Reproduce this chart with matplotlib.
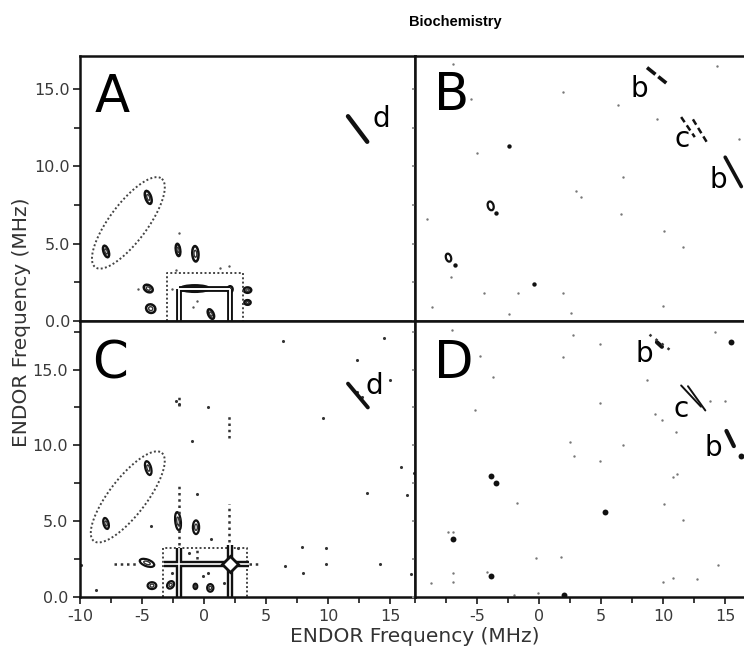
import numpy as np
import matplotlib
matplotlib.use("Agg")
import matplotlib.pyplot as plt
from matplotlib.patches import Ellipse

# ---------------- data ----------------
title = "Biochemistry"
axis_label = "ENDOR Frequency (MHz)"
panel_letters = ["A", "B", "C", "D"]

x_major = [-10, -5, 0, 5, 10, 15]
x_major_D = [-5, 0, 5, 10, 15]
y_major = [0.0, 5.0, 10.0, 15.0]

# Annotation ellipse (center, semi-axis vectors) for A and C
ellA = dict(c=(-6.1, 6.35), a=(2.7, 2.85), b=(1.15, -0.8))
ellC = dict(c=(-6.15, 6.6), a=(2.75, 2.9), b=(1.15, -0.78))
# dotted boxes (x0, x1, y1)
boxA = (-3.0, 3.1, 3.1)
boxC = (-3.3, 3.5, 3.25)

# ---- Panel A peaks: x, y, width, height, angle
A_px = [-4.5, -7.9, -2.1, -0.7, -4.5, -4.3, 0.55, 3.5, 3.5, -0.75, 2.1]
A_py = [8.0, 4.5, 4.6, 4.35, 2.1, 0.8, 0.45, 2.0, 1.2, 2.1, 2.05]
A_pw = [0.45, 0.4, 0.35, 0.5, 0.75, 0.75, 0.4, 0.6, 0.5, 2.3, 0.4]
A_ph = [0.9, 0.8, 0.8, 1.0, 0.45, 0.55, 0.7, 0.35, 0.3, 0.42, 0.4]
A_pa = [25, 25, 10, 5, -20, -10, 35, 0, 0, 0, 0]
# ridges A (x0,y0,x1,y1)
A_ridge = [(-2.0, 0.0, -2.0, 2.1), (-2.0, 2.1, 2.1, 2.1), (2.1, 2.1, 2.1, 0.0)]
A_d = (11.6, 13.25, 13.15, 11.6)
A_dots_x = [-2.0, 2.0, 1.3, -0.9, -0.6, -2.6, 3.4, -5.3, -2.3]
A_dots_y = [5.7, 3.55, 3.4, 0.9, 1.3, 2.1, 2.1, 2.1, 3.3]

# ---- Panel C peaks
C_px = [-4.5, -7.9, -2.1, -0.65, -4.6, -4.2, -2.7, 0.5, -0.7]
C_py = [8.5, 4.85, 5.0, 4.6, 2.25, 0.75, 0.8, 0.6, 0.7]
C_pw = [0.45, 0.4, 0.45, 0.5, 1.2, 0.7, 0.6, 0.5, 0.3]
C_ph = [0.95, 0.75, 1.2, 0.9, 0.45, 0.45, 0.45, 0.5, 0.35]
C_pa = [20, 20, 8, 0, -15, 0, 30, 35, 0]
C_ridge = [(-2.0, 0.0, -2.0, 2.2), (-2.0, 2.2, 2.1, 2.2), (2.1, 0.0, 2.1, 3.4),
           (2.1, 2.2, 3.6, 2.2), (-3.2, 2.2, -2.0, 2.2), (-2.0, 2.2, -2.0, 3.2)]
C_star = (2.1, 2.15)
C_dotted = [(-2.0, 3.4, -2.0, 7.4), (2.0, 3.6, 2.0, 6.1), (2.0, 10.5, 2.0, 12.0),
            (-7.3, 2.2, -5.3, 2.2), (3.6, 2.2, 4.6, 2.2), (-2.0, 12.6, -2.0, 13.2),
            (-0.6, 2.5, -0.6, 3.3)]
C_d = (11.6, 14.07, 13.2, 12.5)
C_dots_x = [6.35, 14.5, 12.35, 15.0, 0.35, -2.3, -2.0, 9.6, -1.0, 15.9, 16.9, 16.35,
            13.1, -0.6, -4.3, 0.55, 7.9, 9.8, 6.5, 9.8, 14.2, 8.0, 16.7, -8.7, -9.9,
            -0.1, -2.6, 1.6, 2.7, -1.2, 0.3, 12.7, 12.3]
C_dots_y = [16.9, 17.05, 15.65, 14.3, 12.5, 12.9, 12.7, 11.8, 10.3, 8.6, 8.2, 6.7,
            6.85, 6.8, 4.65, 3.85, 3.3, 3.2, 2.05, 2.2, 2.2, 1.6, 1.5, 0.45, 2.1,
            1.4, 1.6, 0.9, 3.2, 2.9, 1.6, 13.2, 13.5]

# ---- Panel B
B_lines = [(8.7, 16.4, 10.25, 15.4), (11.45, 13.2, 12.55, 11.9), (12.4, 13.05, 13.5, 11.6),
           (15.0, 10.6, 16.3, 8.7)]
B_px = [-3.9, -7.3]
B_py = [7.45, 4.1]
B_pw = [0.45, 0.4]
B_ph = [0.6, 0.55]
B_pa = [30, 30]
B_bold_x = [-3.45, -6.8, -0.4, -2.4]
B_bold_y = [7.0, 3.65, 2.4, 11.3]
B_dots_x = [-6.9, -5.5, 1.9, 6.4, -5.0, 6.8, 3.0, 3.35, 6.6, 9.5, 16.1, 14.3, 10.1,
            11.6, -9.0, -7.1, -4.4, -1.7, 1.9, -8.6, -2.4, 2.6, 10.0]
B_dots_y = [16.6, 14.35, 14.8, 14.0, 10.9, 9.35, 8.4, 8.05, 6.95, 13.1, 11.75, 16.5,
            5.8, 4.8, 6.6, 2.85, 1.8, 1.8, 1.8, 0.9, 0.45, 0.5, 1.0]
B_labels = [("b", 7.36, 14.5), ("c", 10.9, 11.26), ("b", 13.76, 8.6)]

# ---- Panel D
D_lines = [(11.45, 13.95, 13.05, 12.55), (12.0, 13.9, 13.4, 12.3), (15.1, 10.95, 15.7, 9.95),
           (9.5, 16.8, 9.9, 16.5)]
D_dotline = (8.9, 17.3, 10.7, 16.2)
D_bold_x = [15.5, -3.9, -3.45, 5.3, -6.9, -3.9, 2.0, 16.25]
D_bold_y = [16.8, 8.0, 7.5, 5.6, 3.85, 1.4, 0.13, 9.3]
D_dots_x = [-7.0, 14.2, -4.8, 1.9, 4.9, 2.7, -3.7, 4.9, 8.7, -5.2, 6.8, 2.5, 2.8, 4.9,
            13.8, 15.0, 9.35, 9.9, 11.0, 11.1, 10.8, 10.1, 11.6, -1.75, -7.3, -6.95,
            -6.9, -6.9, -8.7, -4.2, -0.25, 1.75, -2.0, -0.1, 14.4, 12.7, 10.8, 10.0, 16.8]
D_dots_y = [17.6, 17.5, 15.9, 15.8, 16.7, 17.3, 14.5, 12.8, 14.3, 12.3, 10.0, 10.2, 9.3,
            9.0, 12.9, 12.9, 12.1, 11.7, 10.9, 8.1, 7.9, 6.1, 5.1, 6.2, 4.3, 4.3,
            1.6, 1.0, 0.9, 1.65, 2.6, 2.65, 0.13, 0.25, 2.1, 1.2, 1.25, 1.0, 15.8]
D_labels = [("b", 7.76, 15.5), ("c", 10.8, 11.9), ("b", 13.36, 9.3)]

# ---------------- figure ----------------
W, H = 744, 658
fig = plt.figure(figsize=(W / 100, H / 100), dpi=100)

def fr(x0, y0, x1, y1):
    return [x0 / W, 1 - y1 / H, (x1 - x0) / W, (y1 - y0) / H]

axA = fig.add_axes(fr(80, 56, 415, 321))
axB = fig.add_axes(fr(415, 56, 750, 321))
axC = fig.add_axes(fr(80, 321, 415, 597))
axD = fig.add_axes(fr(415, 321, 750, 597))

tick_col = "#3a3a3a"
for ax, ylim in [(axA, 17.15), (axB, 17.15), (axC, 18.2), (axD, 18.2)]:
    ax.set_xlim(-10, 17)
    ax.set_ylim(0, ylim)
    for s in ax.spines.values():
        s.set_linewidth(1.8)
        s.set_color("#111111")
    ax.set_xticks(np.arange(-10, 17.1, 2.5), minor=True)
    ax.set_yticks(np.arange(0, ylim, 2.5), minor=True)
    ax.tick_params(which="both", direction="out", color=tick_col, width=1.4)
    ax.tick_params(which="major", length=5)
    ax.tick_params(which="minor", length=4)
    ax.tick_params(labelsize=11.5, labelcolor=tick_col)
    ax.set_facecolor("white")

for ax in (axA, axC):
    ax.set_yticks(y_major)
    ax.set_yticklabels([f"{v:.1f}" for v in y_major])
for ax in (axB, axD):
    ax.set_yticks(y_major)
    ax.set_yticklabels([])
    ax.tick_params(axis="y", which="both", length=2, color="#999999")
for ax in (axA, axB):
    ax.set_xticks([])
    ax.set_xticks([], minor=True)
axC.set_xticks(x_major)
axC.set_xticklabels([str(v) for v in x_major])
axD.set_xticks(x_major_D)
axD.set_xticklabels([str(v) for v in x_major_D])
axA.tick_params(axis="y", which="major", pad=2)

def draw_ell(ax, e):
    t = np.linspace(0, 2 * np.pi, 120)
    cx, cy = e["c"]
    ax.plot(cx + e["a"][0] * np.cos(t) + e["b"][0] * np.sin(t),
            cy + e["a"][1] * np.cos(t) + e["b"][1] * np.sin(t),
            ls=(0, (1, 1.2)), color="#444444", lw=1.4)

def draw_box(ax, b):
    x0, x1, y1 = b
    ax.plot([x0, x0, x1, x1], [0, y1, y1, 0], ls=(0, (1, 1.2)), color="#444444", lw=1.4)

def draw_peaks(ax, xs, ys, ws, hs, angs, lw=1.8):
    for x, y, w, h, a in zip(xs, ys, ws, hs, angs):
        ax.add_patch(Ellipse((x, y), w, h, angle=a, fill=False, ec="#111111", lw=lw))
        ax.add_patch(Ellipse((x, y), w * 0.45, h * 0.45, angle=a, fill=False, ec="#333333", lw=1.0))

def draw_ridges(ax, segs, lw_out=4.2, lw_in=1.4):
    for x0, y0, x1, y1 in segs:
        ax.plot([x0, x1], [y0, y1], color="#111111", lw=lw_out, solid_capstyle="butt")
    for x0, y0, x1, y1 in segs:
        ax.plot([x0, x1], [y0, y1], color="white", lw=lw_in, solid_capstyle="butt")

def draw_lines(ax, segs, lw=2.6, ls="-"):
    for x0, y0, x1, y1 in segs:
        ax.plot([x0, x1], [y0, y1], color="#111111", lw=lw, ls=ls, solid_capstyle="round")

# Panel A
draw_ell(axA, ellA)
draw_box(axA, boxA)
draw_ridges(axA, A_ridge)
draw_peaks(axA, A_px, A_py, A_pw, A_ph, A_pa)
draw_lines(axA, [A_d], lw=3.2)
axA.scatter(A_dots_x, A_dots_y, s=3, color="#555555", lw=0)

# Panel C
draw_ell(axC, ellC)
draw_box(axC, boxC)
for x0, y0, x1, y1 in C_dotted:
    axC.plot([x0, x1], [y0, y1], ls=(0, (1, 1.5)), color="#333333", lw=1.8)
draw_ridges(axC, C_ridge, lw_out=4.6, lw_in=1.2)
axC.plot([C_star[0]], [C_star[1]], marker="D", ms=8, mfc="white", mec="#111111", mew=2)
draw_peaks(axC, C_px, C_py, C_pw, C_ph, C_pa, lw=1.6)
draw_lines(axC, [C_d], lw=2.8)
axC.scatter(C_dots_x, C_dots_y, s=5, color="#333333", lw=0)

# Panel B
draw_lines(axB, B_lines[:1], lw=2.6, ls=(0, (3, 1)))
draw_lines(axB, B_lines[1:3], lw=1.8, ls=(0, (2.5, 1.5)))
draw_lines(axB, B_lines[3:], lw=2.6)
for x, y, w, h, a in zip(B_px, B_py, B_pw, B_ph, B_pa):
    axB.add_patch(Ellipse((x, y), w, h, angle=a, fill=False, ec="#111111", lw=1.6))
axB.scatter(B_bold_x, B_bold_y, s=10, color="#111111", lw=0)
axB.scatter(B_dots_x, B_dots_y, s=3, color="#777777", lw=0)

# Panel D
draw_lines(axD, D_lines[:2], lw=1.4)
draw_lines(axD, D_lines[2:], lw=3.0)
axD.plot([D_dotline[0], D_dotline[2]], [D_dotline[1], D_dotline[3]],
         ls=(0, (1, 2)), color="#333333", lw=1.8)
axD.scatter(D_bold_x, D_bold_y, s=18, color="#111111", lw=0)
axD.scatter(D_dots_x, D_dots_y, s=3, color="#777777", lw=0)

# labels
letter_pos = {"A": (axA, -8.8, 13.5), "B": (axB, -8.5, 13.65),
              "C": (axC, -9.0, 14.4), "D": (axD, -8.5, 14.45)}
for L in panel_letters:
    ax, x, y = letter_pos[L]
    ax.text(x, y, L, fontsize=37, ha="left", va="baseline", color="black")
axA.text(13.55, 12.55, "d", fontsize=20, ha="left", va="baseline")
axC.text(13.05, 13.4, "d", fontsize=20, ha="left", va="baseline")
for t, x, y in B_labels:
    axB.text(x, y, t, fontsize=20, ha="left", va="baseline")
for t, x, y in D_labels:
    axD.text(x, y, t, fontsize=20, ha="left", va="baseline")

fig.text(455 / W, 1 - 22 / H, title, fontsize=10.5, fontweight="bold",
         family="Liberation Sans", ha="center", va="center")
fig.text(415 / W, 1 - 637 / H, axis_label, fontsize=14.5, color="#333333",
         ha="center", va="center")
fig.text(22 / W, 1 - 322 / H, axis_label, fontsize=14.5, color="#333333",
         ha="center", va="center", rotation=90)

fig.savefig("out.png", dpi=100)
